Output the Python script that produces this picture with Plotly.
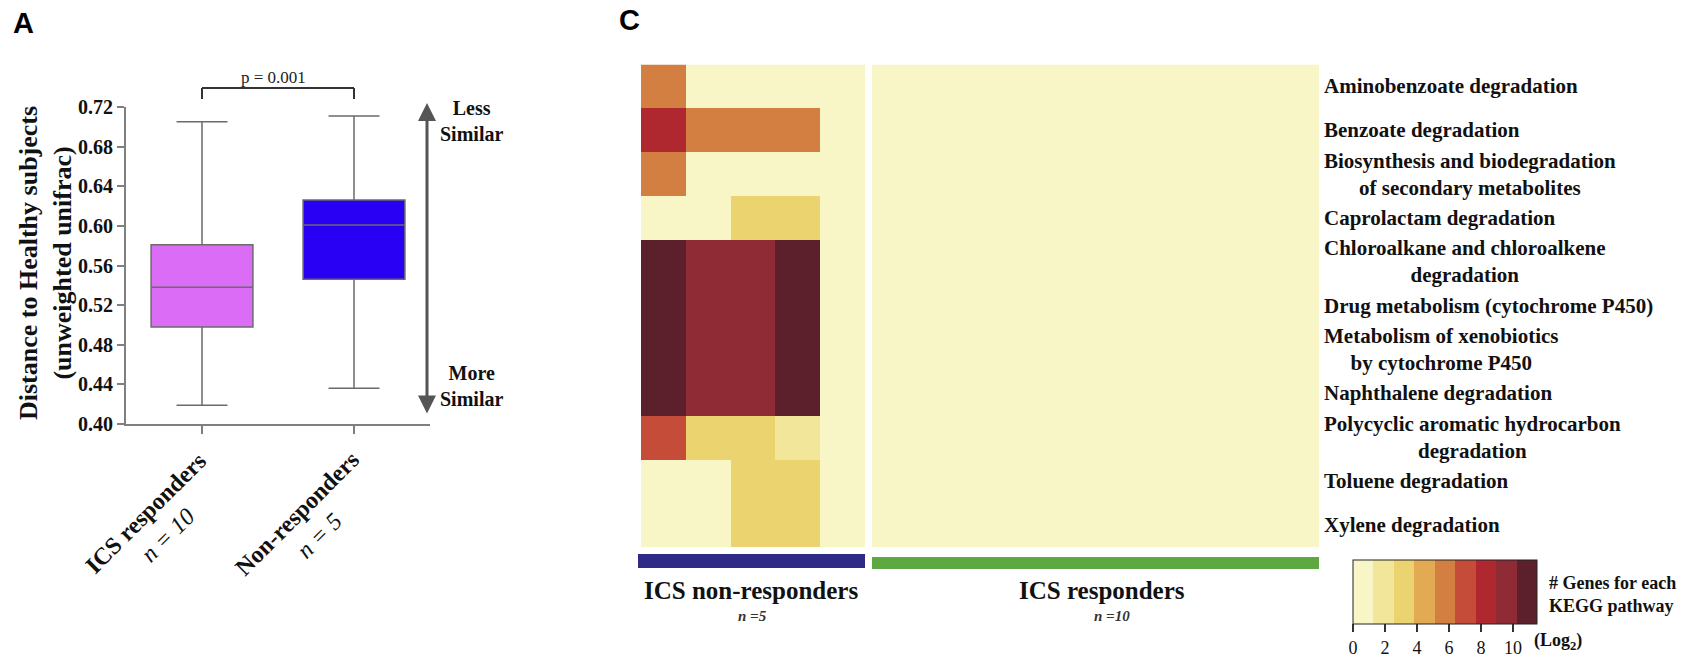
import plotly.graph_objects as go

W, H = 1698, 658


def fx(p):
    return p / W


def fy(p):
    return 1 - p / H


SERIF = "Liberation Serif, Times New Roman, serif"
SANS = "Liberation Sans, Arial, sans-serif"
INK = "#111111"

# ---------------- Panel A: distance to healthy subjects ----------------
groups = ["ICS responders", "Non-responders"]
group_n = [10, 5]
q1 = [0.498, 0.546]
median = [0.538, 0.601]
q3 = [0.581, 0.626]
lower_whisker = [0.419, 0.436]
upper_whisker = [0.705, 0.711]
box_colors = ["#DA6CF5", "#2A00F5"]
p_value = "p = 0.001"
y_ticks = [0.40, 0.44, 0.48, 0.52, 0.56, 0.60, 0.64, 0.68, 0.72]

# ---------------- Panel C: KEGG pathway gene counts (log2) ----------------
pathways = [
    "Aminobenzoate degradation",
    "Benzoate degradation",
    "Biosynthesis and biodegradation<br>of secondary metabolites",
    "Caprolactam degradation",
    "Chloroalkane and chloroalkene<br>degradation",
    "Drug metabolism (cytochrome P450)",
    "Metabolism of xenobiotics<br>by cytochrome P450",
    "Naphthalene degradation",
    "Polycyclic aromatic hydrocarbon<br>degradation",
    "Toluene degradation",
    "Xylene degradation",
]
nonresp_samples = ["NR1", "NR2", "NR3", "NR4", "NR5"]
resp_samples = ["R1", "R2", "R3", "R4", "R5", "R6", "R7", "R8", "R9", "R10"]
nonresp_log2 = [
    [6, 0, 0, 0, 0],
    [8, 6, 6, 6, 0],
    [6, 0, 0, 0, 0],
    [0, 0, 3, 3, 0],
    [11, 10, 10, 11, 0],
    [11, 10, 10, 11, 0],
    [11, 10, 10, 11, 0],
    [11, 10, 10, 11, 0],
    [7, 3, 3, 2, 0],
    [0, 0, 3, 3, 0],
    [0, 0, 3, 3, 0],
]
resp_log2 = [
    [0, 0, 0, 0, 0, 0, 0, 0, 0, 0],
    [0, 0, 0, 0, 0, 0, 0, 0, 0, 0],
    [0, 0, 0, 0, 0, 0, 0, 0, 0, 0],
    [0, 0, 0, 0, 0, 0, 0, 0, 0, 0],
    [0, 0, 0, 0, 0, 0, 0, 0, 0, 0],
    [0, 0, 0, 0, 0, 0, 0, 0, 0, 0],
    [0, 0, 0, 0, 0, 0, 0, 0, 0, 0],
    [0, 0, 0, 0, 0, 0, 0, 0, 0, 0],
    [0, 0, 0, 0, 0, 0, 0, 0, 0, 0],
    [0, 0, 0, 0, 0, 0, 0, 0, 0, 0],
    [0, 0, 0, 0, 0, 0, 0, 0, 0, 0],
]
band_colors = ["#F8F6C6", "#F2E69B", "#EBD470", "#E2AA52", "#D27F41",
               "#C54C38", "#B0282F", "#8F2B35", "#5C202D"]
cbar_ticks = [0, 2, 4, 6, 8, 10]
cbar_max = 11.5
group_labels = ["ICS non-responders", "ICS responders"]
group_label_n = [5, 10]

# stepped colour scale: one flat band per colour
n_bands = len(band_colors)
colorscale = []
for i, c in enumerate(band_colors):
    colorscale.append([i / n_bands, c])
    colorscale.append([(i + 1) / n_bands, c])

fig = go.Figure()

for i, g in enumerate(groups):
    fig.add_trace(go.Box(
        x=[g], q1=[q1[i]], median=[median[i]], q3=[q3[i]],
        lowerfence=[lower_whisker[i]], upperfence=[upper_whisker[i]],
        fillcolor=box_colors[i], line=dict(color="#6b6b6b", width=1.5),
        width=0.67, whiskerwidth=0.5, boxpoints=False,
        xaxis="x", yaxis="y", showlegend=False, hoverinfo="skip",
    ))

fig.add_trace(go.Heatmap(z=nonresp_log2, x=nonresp_samples, y=pathways,
                         coloraxis="coloraxis", xaxis="x2", yaxis="y2",
                         hoverinfo="skip"))
fig.add_trace(go.Heatmap(z=resp_log2, x=resp_samples, y=pathways,
                         coloraxis="coloraxis", xaxis="x3", yaxis="y2",
                         hoverinfo="skip"))

axis_grey = "#808080"
annotations = []


def label(text, x, y, size, family=SERIF, color=INK, xanchor="center",
          yanchor="middle", align="center", **kw):
    """Paper-positioned text given in pixel coordinates."""
    d = dict(text=text, x=fx(x), y=fy(y), xref="paper", yref="paper",
             xanchor=xanchor, yanchor=yanchor, align=align, showarrow=False,
             font=dict(family=family, size=size, color=color))
    d.update(kw)
    annotations.append(d)


# panel letters
label("<b>A</b>", 23, 23, 29, family=SANS, color="#000")
label("<b>C</b>", 629, 20, 29, family=SANS, color="#000")

# y-axis title
label("<b>Distance to Healthy subjects</b><br><b>(unweighted unifrac)</b>",
      45, 263, 26, textangle=-90)

# rotated category labels
for g, n in zip(groups, group_n):
    annotations.append(dict(
        text=f"<b>{g}</b><br><i>n = {n}</i>", x=g, y=0.40, xref="x", yref="y",
        xanchor="center", yanchor="middle", xshift=-46, yshift=-100, textangle=-45,
        showarrow=False, align="center", font=dict(family=SERIF, size=24, color=INK)))

# significance label
label(p_value, 273, 77, 17, color="#222")

# similarity arrow and captions
annotations.append(dict(
    text="", x=fx(427), y=fy(103), xref="paper", yref="paper",
    ax=0, ay=312, axref="pixel", ayref="pixel", showarrow=True,
    arrowhead=2, startarrowhead=2, arrowside="end+start",
    arrowsize=1.2, startarrowsize=1.2, arrowwidth=3, arrowcolor="#555"))
label("<b>Less</b><br><b>Similar</b>", 472, 121, 20)
label("<b>More</b><br><b>Similar</b>", 472, 386, 20)

# pathway labels
for p in pathways:
    txt = "<br>".join(f"<b>{line}</b>" for line in p.split("<br>"))
    annotations.append(dict(text=txt, x=fx(1322), y=p, xref="paper", yref="y2",
                            xanchor="left", yanchor="middle", align="center",
                            showarrow=False, font=dict(family=SERIF, size=21, color=INK)))

# group labels under the heat map
for lab, n, cx, cxn in zip(group_labels, group_label_n, [751, 1102], [752, 1112]):
    label(f"<b>{lab}</b>", cx, 590, 25)
    label(f"<b><i>n ={n}</i></b>", cxn, 616, 15, color="#333")

# colour bar captions
label("<b># Genes for each</b>", 1547, 583, 18, xanchor="left")
label("<b>KEGG pathway</b>", 1547, 606, 18, xanchor="left")
label("<b>(Log<sub>2</sub>)</b>", 1532, 641, 18, xanchor="left")

shapes = [
    # significance bracket
    dict(type="line", xref="x", yref="paper", x0=groups[0], x1=groups[0],
         y0=fy(99), y1=fy(88), line=dict(color="#333", width=2)),
    dict(type="line", xref="x", yref="paper", x0=groups[0], x1=groups[1],
         y0=fy(88), y1=fy(88), line=dict(color="#333", width=2)),
    dict(type="line", xref="x", yref="paper", x0=groups[1], x1=groups[1],
         y0=fy(99), y1=fy(88), line=dict(color="#333", width=2)),
    # group colour strips
    dict(type="rect", xref="paper", yref="paper", x0=fx(638), x1=fx(865),
         y0=fy(568), y1=fy(554), fillcolor="#2E2A85", line=dict(width=0)),
    dict(type="rect", xref="paper", yref="paper", x0=fx(872), x1=fx(1319),
         y0=fy(569), y1=fy(557), fillcolor="#5EA842", line=dict(width=0)),
]

fig.update_layout(
    width=W, height=H,
    margin=dict(l=0, r=0, t=0, b=0, autoexpand=False),
    paper_bgcolor="white", plot_bgcolor="white",
    showlegend=False, boxmode="overlay",
    xaxis=dict(domain=[fx(126), fx(430)], anchor="y", type="category",
               categoryorder="array", categoryarray=groups, range=[-0.5, 1.5],
               showline=True, linecolor=axis_grey, linewidth=2,
               ticks="outside", ticklen=8, tickwidth=2, tickcolor=axis_grey,
               showticklabels=False, showgrid=False, zeroline=False),
    yaxis=dict(domain=[fy(424), fy(107)], anchor="x", range=[0.40, 0.72],
               tickvals=y_ticks, ticktext=[f"<b>{v:.2f}</b>" for v in y_ticks],
               showline=True, linecolor=axis_grey, linewidth=2,
               ticks="outside", ticklen=7, tickwidth=2, tickcolor=axis_grey,
               tickfont=dict(family=SERIF, size=20, color=INK),
               showgrid=False, zeroline=False),
    xaxis2=dict(domain=[fx(641), fx(865)], anchor="y2", visible=False,
                range=[-0.5, 4.5]),
    xaxis3=dict(domain=[fx(872), fx(1319)], anchor="y2", visible=False,
                range=[-0.5, 9.5]),
    yaxis2=dict(domain=[fy(547), fy(64.5)], anchor="x2", visible=False,
                type="category", autorange="reversed"),
    coloraxis=dict(
        cmin=0, cmax=cbar_max, colorscale=colorscale,
        colorbar=dict(
            orientation="h", x=fx(1445), xanchor="center", y=fy(560), yanchor="top",
            len=184, lenmode="pixels", thickness=64, thicknessmode="pixels",
            outlinewidth=1, outlinecolor="#222", xpad=0, ypad=0,
            ticks="outside", ticklen=8, tickwidth=2, tickcolor="#333",
            tickvals=cbar_ticks, tickfont=dict(family=SERIF, size=18, color=INK),
        ),
    ),
    annotations=annotations,
    shapes=shapes,
)

fig.write_html("out.html")
